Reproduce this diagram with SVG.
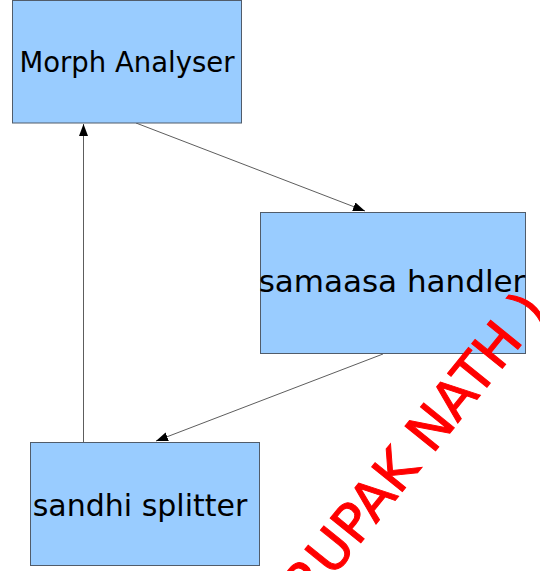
<svg xmlns="http://www.w3.org/2000/svg" width="540" height="571" viewBox="0 0 540 571">
  <defs>
    <style>
      .box { fill: #99ccff; stroke: #515c6a; stroke-width: 1; }
      .label { font-family: "DejaVu Sans", Verdana, sans-serif; fill: #000000; text-anchor: middle; }
      .edge { fill: none; stroke: #333333; stroke-width: 0.8; }
      .stamp { font-family: "DejaVu Sans", Verdana, sans-serif; fill: #ff0000; stroke: #ff0000; stroke-width: 1; font-size: 54px; }
    </style>
    <marker id="head" markerUnits="userSpaceOnUse" markerWidth="13" markerHeight="10" refX="12" refY="4.5" orient="auto">
      <path d="M0,0 L12,4.5 L0,9 Z" fill="#000000"/>
    </marker>
  </defs>

  <g id="connectors">
    <line class="edge" x1="136" y1="123" x2="365" y2="211" marker-end="url(#head)"/>
    <line class="edge" x1="383" y1="354" x2="156" y2="441" marker-end="url(#head)"/>
    <line class="edge" x1="83.5" y1="442" x2="83.5" y2="124" marker-end="url(#head)"/>
  </g>

  <g id="morph-analyser">
    <rect class="box" x="12.5" y="0.5" width="229" height="122.5"/>
    <text class="label" x="127" y="72" font-size="27.5">Morph Analyser</text>
  </g>

  <g id="samaasa-handler">
    <rect class="box" x="260.5" y="212.5" width="265" height="141"/>
    <text class="label" x="392" y="292" font-size="31">samaasa handler</text>
  </g>

  <g id="sandhi-splitter">
    <rect class="box" x="30.5" y="442.5" width="229" height="123"/>
    <text class="label" x="140" y="516" font-size="30">sandhi splitter</text>
  </g>

  <!-- diagonal red stamp drawn over the boxes -->
  <text class="stamp" transform="translate(309,607) rotate(-51)">RUPAK NATH )</text>
</svg>
